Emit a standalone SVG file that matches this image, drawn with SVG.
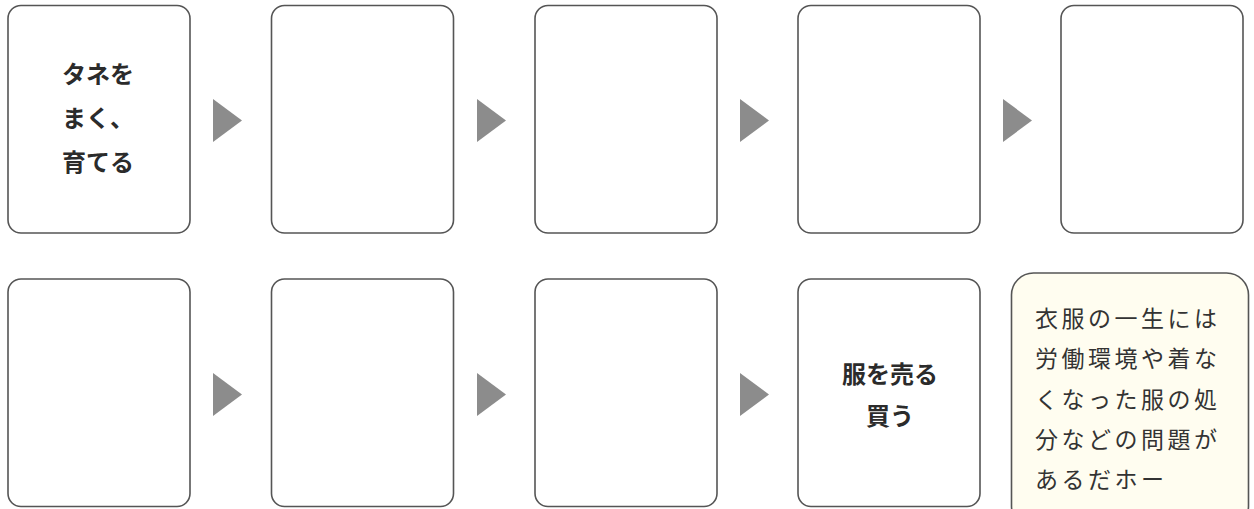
<svg xmlns="http://www.w3.org/2000/svg" width="1254" height="509" viewBox="0 0 1254 509">
<defs>
<style>
.box{fill:#fff;stroke:#555;stroke-width:1.6}
.note{fill:#fffdf0;stroke:#555;stroke-width:1.6}
.arr{fill:#8c8c8c}
.lbl{font-family:"Noto Sans CJK JP","Noto Sans CJK SC",sans-serif;font-size:24px;font-weight:bold;fill:#2b2b2b;text-anchor:middle}
.nt{font-family:"Noto Sans CJK JP","Noto Sans CJK SC",sans-serif;font-size:23px;fill:#333;letter-spacing:3.5px}
</style>
<polygon id="tri" points="0,0 0,43 29,21.5"/>
</defs>
<rect width="1254" height="509" fill="#fff"/>
<g id="n1"><rect class="box" x="8" y="5.5" width="182" height="227.5" rx="13"/>
<text class="lbl" x="98" y="83">タネを</text>
<text class="lbl" x="98" y="127">まく、</text>
<text class="lbl" x="98" y="171">育てる</text></g>
<g id="n2"><rect class="box" x="271.5" y="5.5" width="182" height="227.5" rx="13"/></g>
<g id="n3"><rect class="box" x="535" y="5.5" width="182" height="227.5" rx="13"/></g>
<g id="n4"><rect class="box" x="798" y="5.5" width="182" height="227.5" rx="13"/></g>
<g id="n5"><rect class="box" x="1061" y="5.5" width="182" height="227.5" rx="13"/></g>
<g id="n6"><rect class="box" x="8" y="279" width="182" height="227.5" rx="13"/></g>
<g id="n7"><rect class="box" x="271.5" y="279" width="182" height="227.5" rx="13"/></g>
<g id="n8"><rect class="box" x="535" y="279" width="182" height="227.5" rx="13"/></g>
<g id="n9"><rect class="box" x="798" y="279" width="182" height="227.5" rx="13"/>
<text class="lbl" x="890" y="383">服を売る</text>
<text class="lbl" x="890" y="425">買う</text></g>
<g id="note"><rect class="note" x="1011.5" y="273" width="237" height="255" rx="22"/>
<text class="nt" x="1035" y="327">衣服の一生には</text>
<text class="nt" x="1035" y="367">労働環境や着な</text>
<text class="nt" x="1035" y="408">くなった服の処</text>
<text class="nt" x="1035" y="448">分などの問題が</text>
<text class="nt" x="1035" y="488">あるだホー</text></g>
<g id="connectors" class="arr">
<use href="#tri" x="213" y="99"/>
<use href="#tri" x="477" y="99"/>
<use href="#tri" x="740" y="99"/>
<use href="#tri" x="1003" y="99"/>
<use href="#tri" x="213" y="373"/>
<use href="#tri" x="477" y="373"/>
<use href="#tri" x="740" y="373"/>
</g>
</svg>
